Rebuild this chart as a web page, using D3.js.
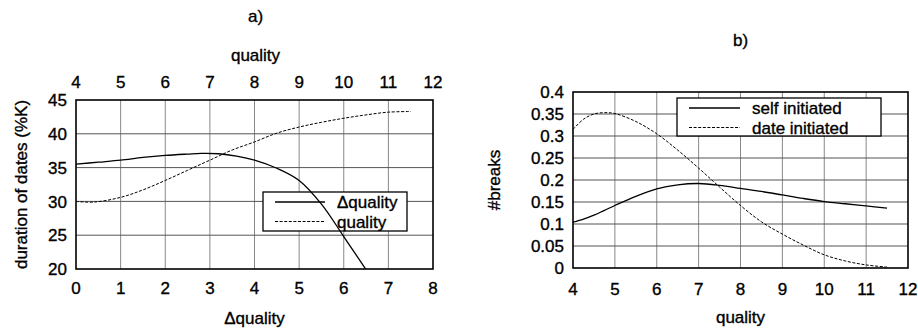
<!DOCTYPE html>
<html>
<head>
<meta charset="utf-8">
<script src="https://cdn.jsdelivr.net/npm/d3@7"></script>
<style>
  body { margin: 0; background: #fff; }
  svg text { font-family: "Liberation Sans", Arial, sans-serif; fill: #000; stroke: #000; stroke-width: 0.35px; }
</style>
</head>
<body>
<div id="chart"></div>
<script>

// ---- panel a) data ----
// solid curve, plotted against the bottom axis (delta quality)
let dqX = [0, 0.5, 1, 1.5, 2, 2.5, 2.8, 3.2, 3.6, 4, 4.5, 5, 5.5, 6, 6.5];
let dqDuration = [35.5, 35.8, 36.1, 36.5, 36.8, 37.0, 37.1, 37.05, 36.7, 36.1, 34.9, 33.1, 29.6, 24.8, 19.9];
// dashed curve, plotted against the top axis (quality)
let qX = [4, 4.4, 5, 5.5, 6, 6.5, 7, 7.5, 8, 8.5, 9, 9.5, 10, 10.5, 11, 11.5];
let qDuration = [30.0, 29.9, 30.6, 31.7, 33.1, 34.6, 36.1, 37.6, 38.8, 40.1, 41.0, 41.7, 42.3, 42.8, 43.2, 43.3];

let aBottomTicks = [0, 1, 2, 3, 4, 5, 6, 7, 8];
let aTopTicks = [4, 5, 6, 7, 8, 9, 10, 11, 12];
let aYTicks = [20, 25, 30, 35, 40, 45];

// ---- panel b) data ----
let bX = [4, 4.25, 4.5, 4.75, 5, 5.5, 6, 6.5, 7, 7.5, 8, 8.5, 9, 9.5, 10, 10.5, 11, 11.5];
let selfBreaks = [0.104, 0.111, 0.12, 0.131, 0.142, 0.163, 0.18, 0.189, 0.192, 0.188, 0.181, 0.174, 0.166, 0.158, 0.151, 0.146, 0.141, 0.136];
let dateBreaks = [0.315, 0.338, 0.35, 0.353, 0.351, 0.333, 0.305, 0.268, 0.227, 0.184, 0.142, 0.105, 0.077, 0.052, 0.03, 0.016, 0.007, 0.002];

let bXTicks = [4, 5, 6, 7, 8, 9, 10, 11, 12];
let bYTicks = [0, 0.05, 0.1, 0.15, 0.2, 0.25, 0.3, 0.35, 0.4];

let svg = d3.select("#chart").append("svg")
    .attr("width", 918)
    .attr("height", 329);

let fontSize = 17;
let dash = "3,1.6";

// draws grid, frame and tick labels for one panel
function drawFrame(g, x, y, xTicks, yTicks, yFmt) {
    let w = x.range()[1], h = y.range()[0];

    g.selectAll(".vgrid").data(xTicks.slice(1, -1)).enter().append("line")
        .attr("x1", d => x(d)).attr("x2", d => x(d))
        .attr("y1", 0).attr("y2", h)
        .attr("stroke", "#888").attr("stroke-width", 1);
    g.selectAll(".hgrid").data(yTicks.slice(1, -1)).enter().append("line")
        .attr("x1", 0).attr("x2", w)
        .attr("y1", d => y(d)).attr("y2", d => y(d))
        .attr("stroke", "#555").attr("stroke-width", 1);

    g.append("rect")
        .attr("width", w).attr("height", h)
        .attr("fill", "none").attr("stroke", "#000").attr("stroke-width", 1.6);

    g.selectAll(".ylab").data(yTicks).enter().append("text")
        .attr("x", -9).attr("y", d => y(d))
        .attr("dy", "0.36em")
        .attr("text-anchor", "end")
        .style("font-size", fontSize + "px")
        .text(yFmt);
}

function drawLegend(g, x0, y0, w, h, lineLen, items) {
    g.append("rect")
        .attr("x", x0).attr("y", y0).attr("width", w).attr("height", h)
        .attr("fill", "#fff").attr("stroke", "#000").attr("stroke-width", 1.3);
    items.forEach((it, i) => {
        let yy = y0 + 10 + i * 19.5;
        g.append("line")
            .attr("x1", x0 + 12).attr("x2", x0 + 12 + lineLen)
            .attr("y1", yy).attr("y2", yy)
            .attr("stroke", "#000").attr("stroke-width", it.dashed ? 1 : 1.3)
            .attr("stroke-dasharray", it.dashed ? dash : null);
        g.append("text")
            .attr("x", x0 + it.tx).attr("y", yy)
            .attr("dy", "0.36em")
            .style("font-size", fontSize + "px")
            .text(it.label);
    });
}

// ---------------- panel a) ----------------
let aLeft = 76, aTop = 100, aW = 357, aH = 169;
let ga = svg.append("g").attr("transform", `translate(${aLeft},${aTop})`);

let xDq = d3.scaleLinear().domain([0, 8]).range([0, aW]);
let xQ = d3.scaleLinear().domain([4, 12]).range([0, aW]);
let yA = d3.scaleLinear().domain([20, 45]).range([aH, 0]);

drawFrame(ga, xDq, yA, aBottomTicks, aYTicks, d => d);

ga.selectAll(".xb").data(aBottomTicks).enter().append("text")
    .attr("x", d => xDq(d)).attr("y", aH + 25)
    .attr("text-anchor", "middle")
    .style("font-size", fontSize + "px")
    .text(d => d);
ga.selectAll(".xt").data(aTopTicks).enter().append("text")
    .attr("x", d => xQ(d)).attr("y", -12)
    .attr("text-anchor", "middle")
    .style("font-size", fontSize + "px")
    .text(d => d);

ga.append("clipPath").attr("id", "clipA")
    .append("rect").attr("width", aW).attr("height", aH);

let lineDq = d3.line()
    .x((d, i) => xDq(dqX[i])).y(d => yA(d))
    .curve(d3.curveCatmullRom);
let lineQ = d3.line()
    .x((d, i) => xQ(qX[i])).y(d => yA(d))
    .curve(d3.curveCatmullRom);

ga.append("path").attr("d", lineQ(qDuration))
    .attr("fill", "none").attr("stroke", "#000").attr("stroke-width", 1)
    .attr("stroke-dasharray", dash);

drawLegend(ga, 187, 92, 144, 39, 50, [
    {label: "\u0394quality", tx: 74},
    {label: "quality", tx: 74, dashed: true}
]);

// solid curve drawn over the legend box, like the original
ga.append("path").attr("d", lineDq(dqDuration))
    .attr("clip-path", "url(#clipA)")
    .attr("fill", "none").attr("stroke", "#000").attr("stroke-width", 1.3);

svg.append("text").attr("x", aLeft + aW / 2 + 1).attr("y", 22)
    .attr("text-anchor", "middle").style("font-size", fontSize + "px").text("a)");
svg.append("text").attr("x", aLeft + aW / 2 + 1).attr("y", 61)
    .attr("text-anchor", "middle").style("font-size", fontSize + "px").text("quality");
svg.append("text").attr("x", aLeft + aW / 2).attr("y", 324)
    .attr("text-anchor", "middle").style("font-size", fontSize + "px").text("\u0394quality");
svg.append("text")
    .attr("transform", `translate(27,${aTop + aH / 2}) rotate(-90)`)
    .attr("text-anchor", "middle").style("font-size", fontSize + "px")
    .text("duration of dates (%K)");

// ---------------- panel b) ----------------
let bLeft = 573, bTop = 92, bW = 335, bH = 176;
let gb = svg.append("g").attr("transform", `translate(${bLeft},${bTop})`);

let xB = d3.scaleLinear().domain([4, 12]).range([0, bW]);
let yB = d3.scaleLinear().domain([0, 0.4]).range([bH, 0]);

drawFrame(gb, xB, yB, bXTicks, bYTicks, d => d3.format("")(+d.toFixed(2)));

gb.selectAll(".xb").data(bXTicks).enter().append("text")
    .attr("x", d => xB(d)).attr("y", bH + 27)
    .attr("text-anchor", "middle")
    .style("font-size", fontSize + "px")
    .text(d => d);

let lineB = d3.line()
    .x((d, i) => xB(bX[i])).y(d => yB(d))
    .curve(d3.curveCatmullRom);

drawLegend(gb, 104, 6, 204, 38, 51, [
    {label: "self initiated", tx: 75},
    {label: "date initiated", tx: 75, dashed: true}
]);

gb.append("path").attr("d", lineB(selfBreaks))
    .attr("fill", "none").attr("stroke", "#000").attr("stroke-width", 1.3);
gb.append("path").attr("d", lineB(dateBreaks))
    .attr("fill", "none").attr("stroke", "#000").attr("stroke-width", 1)
    .attr("stroke-dasharray", dash);

svg.append("text").attr("x", bLeft + bW / 2).attr("y", 46)
    .attr("text-anchor", "middle").style("font-size", fontSize + "px").text("b)");
svg.append("text").attr("x", bLeft + bW / 2).attr("y", 323)
    .attr("text-anchor", "middle").style("font-size", fontSize + "px").text("quality");
svg.append("text")
    .attr("transform", `translate(500,${bTop + bH / 2}) rotate(-90)`)
    .attr("text-anchor", "middle").style("font-size", fontSize + "px")
    .text("#breaks");

</script>
</body>
</html>
